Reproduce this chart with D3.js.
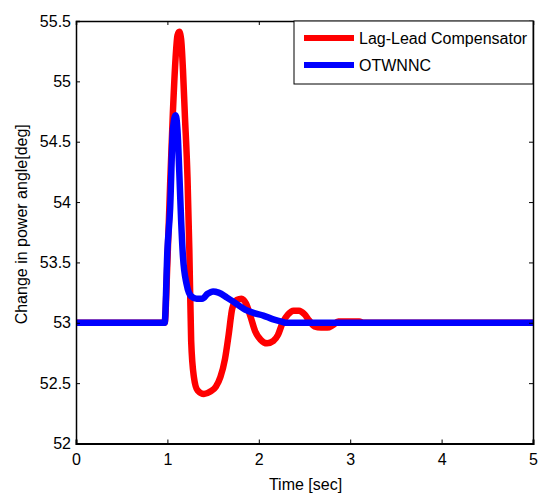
<!DOCTYPE html>
<html>
<head>
<meta charset="utf-8">
<script src="https://cdn.jsdelivr.net/npm/d3@7"></script>
<style>
body { margin: 0; background: #fff; }
svg { display: block; }
text { font-family: "Liberation Sans", Arial, sans-serif; fill: #000; }
</style>
</head>
<body>
<svg id="chart" width="540" height="495"></svg>
<script>
// ---- data ----
const redTime = [0, 0.97, 1.0, 1.03, 1.06, 1.09, 1.11, 1.13, 1.15, 1.17, 1.19, 1.22, 1.24, 1.26, 1.29, 1.33, 1.40, 1.47, 1.53, 1.58, 1.63, 1.67, 1.71, 1.76, 1.81, 1.86, 1.91, 1.96, 2.02, 2.09, 2.16, 2.21, 2.26, 2.32, 2.38, 2.44, 2.50, 2.55, 2.61, 2.68, 2.75, 2.81, 2.87, 3.10, 3.15, 5];
const redValues = [53, 53, 53.5, 54.15, 54.74, 55.2, 55.38, 55.41, 55.35, 55.1, 54.74, 54.2, 53.6, 52.85, 52.55, 52.44, 52.41, 52.43, 52.47, 52.55, 52.7, 52.9, 53.12, 53.19, 53.2, 53.16, 53.05, 52.93, 52.86, 52.83, 52.85, 52.9, 53.0, 53.07, 53.1, 53.1, 53.07, 53.02, 52.97, 52.96, 52.96, 52.98, 53.01, 53.01, 53, 53];
const blueTime = [0, 0.97, 1.0, 1.03, 1.06, 1.09, 1.11, 1.13, 1.15, 1.17, 1.21, 1.26, 1.32, 1.38, 1.44, 1.50, 1.56, 1.65, 1.75, 1.85, 1.95, 2.05, 2.15, 2.25, 2.30, 5];
const blueValues = [53, 53, 53.6, 53.95, 54.6, 54.72, 54.6, 54.25, 53.85, 53.55, 53.32, 53.22, 53.2, 53.2, 53.24, 53.26, 53.25, 53.21, 53.16, 53.11, 53.08, 53.06, 53.03, 53.01, 53.0, 53];
const xTicks = [0, 1, 2, 3, 4, 5];
const yTicks = [52, 52.5, 53, 53.5, 54, 54.5, 55, 55.5];
const seriesNames = ["Lag-Lead Compensator", "OTWNNC"];
const seriesColors = ["#ff0000", "#0000ff"];
const xLabel = "Time [sec]";
const yLabel = "Change in power angle[deg]";

// ---- layout ----
const L = 76, R = 533, T = 21, B = 443.5;
const svg = d3.select("#chart");
const x = d3.scaleLinear().domain([0, 5]).range([L, R]);
const y = d3.scaleLinear().domain([52, 55.5]).range([B, T]);

svg.append("clipPath").attr("id", "clip")
  .append("rect").attr("x", L).attr("y", T - 4).attr("width", R - L).attr("height", B - T + 8);

// lines
const line = d3.line().x(d => x(d[0])).y(d => y(d[1])).curve(d3.curveMonotoneX);
const series = [
  redTime.map((t, i) => [t, redValues[i]]),
  blueTime.map((t, i) => [t, blueValues[i]])
];
series.forEach((s, i) => {
  svg.append("path").datum(s)
    .attr("d", line)
    .attr("fill", "none")
    .attr("stroke", seriesColors[i])
    .attr("stroke-width", 6.5)
    .attr("stroke-linejoin", "round")
    .attr("clip-path", "url(#clip)");
});

// axes
const fs = 16;
const xAxisB = d3.axisBottom(x).tickValues(xTicks).tickSize(-4).tickPadding(10).tickFormat(d3.format("d"));
const xAxisT = d3.axisTop(x).tickValues(xTicks).tickSize(-4).tickFormat("");
const yAxisL = d3.axisLeft(y).tickValues(yTicks).tickSize(-4).tickPadding(5).tickFormat(d => String(d));
const yAxisR = d3.axisRight(y).tickValues(yTicks).tickSize(-4).tickFormat("");

function style(g) {
  g.select(".domain").attr("stroke", "#000").attr("stroke-width", 1.5);
  g.selectAll(".tick line").attr("stroke", "#000").attr("stroke-width", 1);
  g.selectAll(".tick text").attr("font-size", fs).attr("font-family", "Liberation Sans, Arial, sans-serif").attr("fill", "#000");
}
svg.append("g").attr("transform", `translate(0,${B})`).call(xAxisB).call(style).call(g => g.select(".domain").attr("stroke-width", 2));
svg.append("g").attr("transform", `translate(0,${T})`).call(xAxisT).call(style);
svg.append("g").attr("transform", `translate(${L},0)`).call(yAxisL).call(style);
svg.append("g").attr("transform", `translate(${R},0)`).call(yAxisR).call(style);

// axis labels
svg.append("text").attr("x", (L + R) / 2 + 1).attr("y", 490)
  .attr("text-anchor", "middle").attr("font-size", fs).text(xLabel);
svg.append("text").attr("transform", `translate(27,${(T + B) / 2 - 8}) rotate(-90)`)
  .attr("text-anchor", "middle").attr("font-size", fs).text(yLabel);

// legend
const lg = svg.append("g");
lg.append("rect").attr("x", 294).attr("y", T).attr("width", R - 294).attr("height", 63)
  .attr("fill", "#fff").attr("stroke", "#000").attr("stroke-width", 1);
seriesNames.forEach((name, i) => {
  const yy = 38 + i * 27;
  lg.append("line").attr("x1", 304).attr("x2", 354).attr("y1", yy).attr("y2", yy)
    .attr("stroke", seriesColors[i]).attr("stroke-width", 6);
  lg.append("text").attr("x", 359).attr("y", yy + 6).attr("font-size", fs).text(name);
});
</script>
</body>
</html>
